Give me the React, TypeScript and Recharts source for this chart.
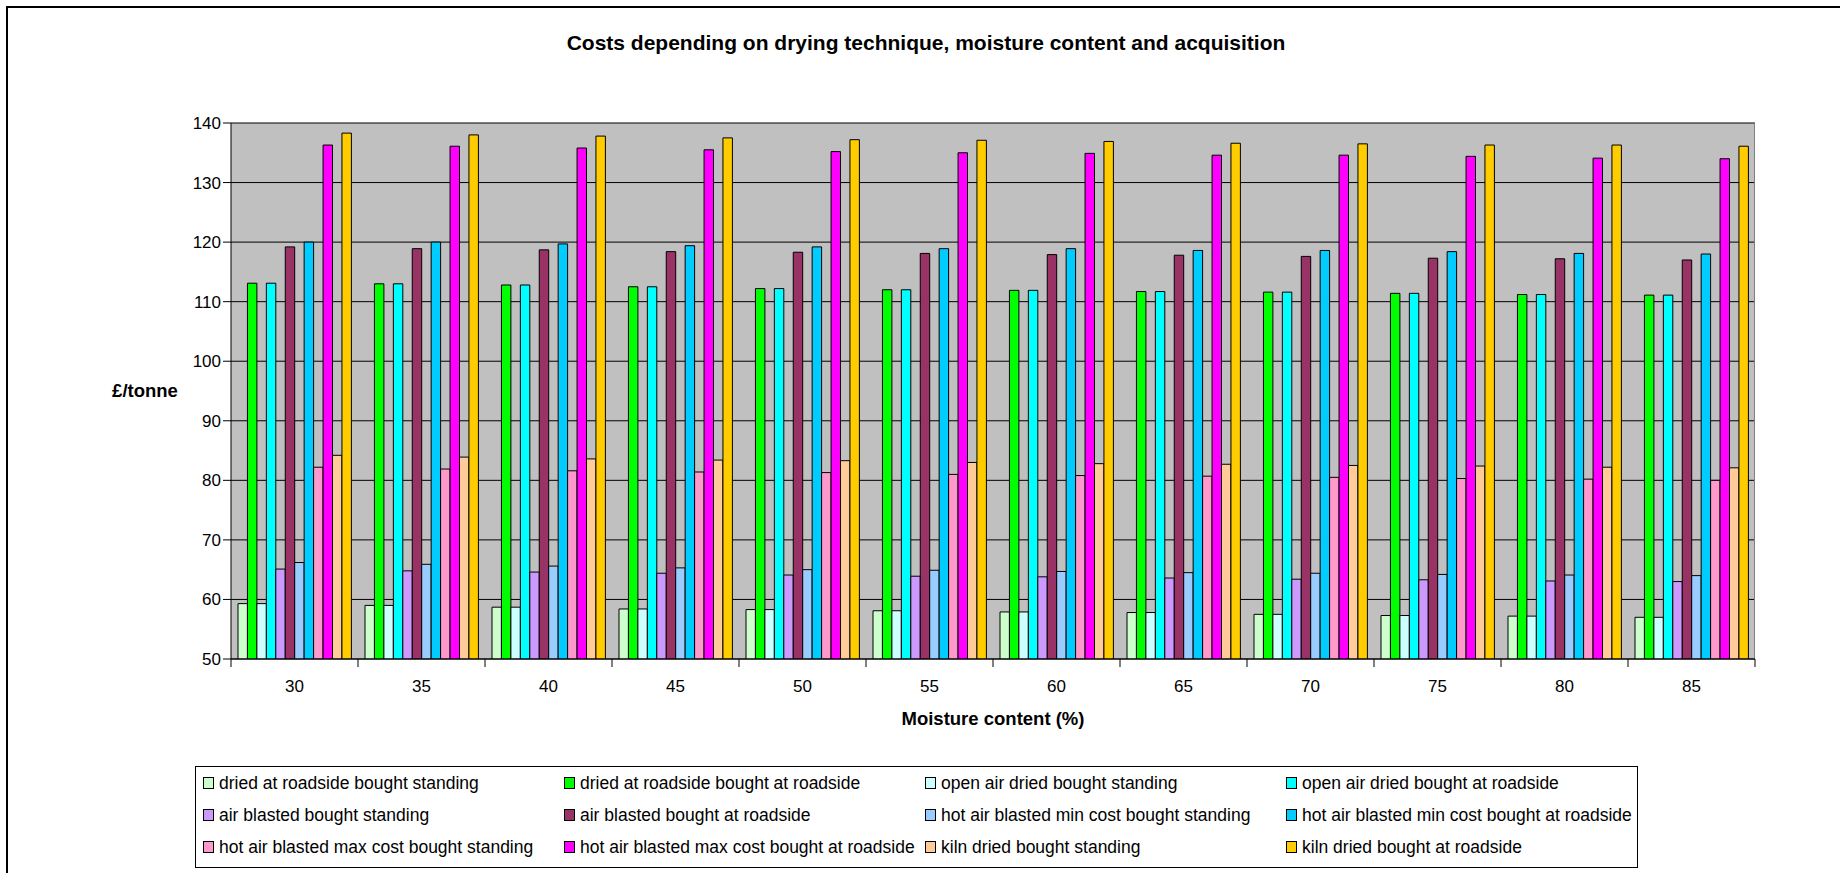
import { BarChart, Bar, XAxis, YAxis, CartesianGrid } from "recharts";

// moisture content (%) along the x axis
const moisture = [30, 35, 40, 45, 50, 55, 60, 65, 70, 75, 80, 85];

// £/tonne for each drying technique / acquisition route
const driedStanding = [59.3, 59.0, 58.7, 58.4, 58.3, 58.1, 57.9, 57.8, 57.5, 57.3, 57.2, 57.0];
const driedRoadside = [113.1, 113.0, 112.8, 112.5, 112.2, 112.0, 111.9, 111.7, 111.6, 111.4, 111.2, 111.1];
const openAirStanding = [59.3, 59.0, 58.7, 58.4, 58.3, 58.1, 57.9, 57.8, 57.5, 57.3, 57.2, 57.0];
const openAirRoadside = [113.1, 113.0, 112.8, 112.5, 112.2, 112.0, 111.9, 111.7, 111.6, 111.4, 111.2, 111.1];
const airBlastedStanding = [65.1, 64.8, 64.6, 64.4, 64.1, 63.9, 63.8, 63.6, 63.4, 63.3, 63.1, 63.0];
const airBlastedRoadside = [119.2, 118.9, 118.7, 118.4, 118.3, 118.1, 117.9, 117.8, 117.6, 117.3, 117.2, 117.0];
const hotMinStanding = [66.2, 65.9, 65.6, 65.3, 65.0, 64.9, 64.7, 64.5, 64.4, 64.2, 64.1, 64.0];
const hotMinRoadside = [120.0, 120.0, 119.7, 119.4, 119.2, 118.9, 118.9, 118.6, 118.6, 118.4, 118.1, 118.0];
const hotMaxStanding = [82.2, 81.9, 81.6, 81.4, 81.3, 81.0, 80.8, 80.7, 80.5, 80.3, 80.2, 80.0];
const hotMaxRoadside = [136.3, 136.1, 135.8, 135.5, 135.2, 135.0, 134.9, 134.6, 134.6, 134.4, 134.1, 134.0];
const kilnStanding = [84.2, 83.9, 83.6, 83.4, 83.3, 83.0, 82.8, 82.7, 82.5, 82.4, 82.2, 82.1];
const kilnRoadside = [138.3, 138.0, 137.8, 137.5, 137.2, 137.1, 136.9, 136.6, 136.5, 136.3, 136.3, 136.1];

const yTicks = [50, 60, 70, 80, 90, 100, 110, 120, 130, 140];

const series = [
  { key: "driedStanding", name: "dried at roadside bought standing", color: "#CCFFCC", values: driedStanding },
  { key: "driedRoadside", name: "dried at roadside bought at roadside", color: "#00FF00", values: driedRoadside },
  { key: "openAirStanding", name: "open air dried bought standing", color: "#CCFFFF", values: openAirStanding },
  { key: "openAirRoadside", name: "open air dried bought at roadside", color: "#00FFFF", values: openAirRoadside },
  { key: "airBlastedStanding", name: "air blasted bought standing", color: "#CC99FF", values: airBlastedStanding },
  { key: "airBlastedRoadside", name: "air blasted bought at roadside", color: "#993366", values: airBlastedRoadside },
  { key: "hotMinStanding", name: "hot air blasted min cost bought standing", color: "#99CCFF", values: hotMinStanding },
  { key: "hotMinRoadside", name: "hot air blasted min cost bought at roadside", color: "#00CCFF", values: hotMinRoadside },
  { key: "hotMaxStanding", name: "hot air blasted max cost bought standing", color: "#FF99CC", values: hotMaxStanding },
  { key: "hotMaxRoadside", name: "hot air blasted max cost bought at roadside", color: "#FF00FF", values: hotMaxRoadside },
  { key: "kilnStanding", name: "kiln dried bought standing", color: "#FFCC99", values: kilnStanding },
  { key: "kilnRoadside", name: "kiln dried bought at roadside", color: "#FFCC00", values: kilnRoadside },
];

const data = moisture.map((m, i) => {
  const row: Record<string, number | string> = { moisture: String(m) };
  series.forEach((s) => {
    row[s.key] = s.values[i];
  });
  return row;
});

const FONT = "'Liberation Sans', Arial, sans-serif";

// chart geometry
const W = 1840;
const H = 873;
const MARGIN = { top: 123, right: 85, bottom: 174, left: 151 };
const Y_AXIS_W = 80;
const X_AXIS_H = 40;
const PLOT_LEFT = MARGIN.left + Y_AXIS_W;
const PLOT_W = W - MARGIN.left - MARGIN.right - Y_AXIS_W;
const PLOT_H = H - MARGIN.top - MARGIN.bottom - X_AXIS_H;
const BAND = PLOT_W / moisture.length;
const X_TICK_OFFSET = 21;

// category label centred, tick marks sitting between the categories
function MoistureTick(props: any) {
  const { x, y, payload, index } = props;
  const axisY = y - X_TICK_OFFSET;
  const left = x - BAND / 2;
  const isLast = index === moisture.length - 1;
  return (
    <g>
      <line x1={left} x2={left} y1={axisY} y2={axisY + 8} stroke="#000" />
      {isLast && (
        <line x1={x + BAND / 2} x2={x + BAND / 2} y1={axisY} y2={axisY + 8} stroke="#000" />
      )}
      <text
        x={x}
        y={y}
        dy="0.71em"
        textAnchor="middle"
        fill="#000"
        fontSize={17}
        fontFamily={FONT}
      >
        {payload.value}
      </text>
    </g>
  );
}

function LegendBox() {
  return (
    <div
      style={{
        position: "absolute",
        left: 195,
        top: 766,
        width: 1443,
        height: 102,
        border: "1px solid #000",
        boxSizing: "border-box",
        background: "#fff",
        fontFamily: FONT,
        fontSize: 17.5,
        color: "#000",
      }}
    >
      {series.map((s, i) => (
        <div
          key={s.key}
          style={{
            position: "absolute",
            left: 7 + (i % 4) * 361,
            top: 5 + Math.floor(i / 4) * 32,
            height: 22,
            display: "flex",
            alignItems: "center",
            whiteSpace: "nowrap",
          }}
        >
          <span
            style={{
              display: "inline-block",
              width: 9,
              height: 10,
              background: s.color,
              border: "1px solid #000",
              marginRight: 5,
            }}
          />
          {s.name}
        </div>
      ))}
    </div>
  );
}

export default function App() {
  return (
    <div
      style={{
        position: "absolute",
        left: 0,
        top: 0,
        width: W,
        height: H,
        overflow: "hidden",
        background: "#fff",
        fontFamily: FONT,
      }}
    >
      <div
        style={{
          position: "absolute",
          left: 6,
          top: 6,
          width: W,
          height: H,
          border: "2px solid #000",
        }}
      />

      <div
        style={{
          position: "absolute",
          left: 0,
          width: 1852,
          top: 30,
          textAlign: "center",
          fontWeight: "bold",
          fontSize: 21,
          lineHeight: "26px",
          color: "#000",
        }}
      >
        Costs depending on drying technique, moisture content and acquisition
      </div>

      <div style={{ position: "absolute", left: 0, top: 0 }}>
        <BarChart
          width={W}
          height={H}
          data={data}
          margin={MARGIN}
          barGap={0}
          barSize={9.45}
        >
          <CartesianGrid vertical={false} stroke="#000" fill="#C0C0C0" fillOpacity={1} />
          <XAxis
            dataKey="moisture"
            height={X_AXIS_H}
            axisLine={{ stroke: "#000" }}
            tickLine={false}
            tickSize={8}
            tickMargin={13}
            tick={<MoistureTick />}
            interval={0}
          />
          <YAxis
            width={Y_AXIS_W}
            domain={[50, 140]}
            ticks={yTicks}
            allowDataOverflow
            axisLine={{ stroke: "#000" }}
            tickLine={{ stroke: "#000" }}
            tickSize={8}
            tickMargin={2}
            tick={{ fill: "#000", fontSize: 17, fontFamily: FONT }}
          />
          {series.map((s) => (
            <Bar
              key={s.key}
              dataKey={s.key}
              name={s.name}
              fill={s.color}
              stroke="#000"
              strokeWidth={1}
              isAnimationActive={false}
            />
          ))}
        </BarChart>
      </div>

      {/* grey frame on the top and right of the plot area */}
      <div
        style={{
          position: "absolute",
          left: PLOT_LEFT,
          top: MARGIN.top - 1,
          width: PLOT_W,
          height: PLOT_H,
          borderTop: "1px solid #808080",
          borderRight: "1px solid #808080",
          boxSizing: "border-box",
          pointerEvents: "none",
        }}
      />

      <div
        style={{
          position: "absolute",
          left: 100,
          top: 379,
          width: 90,
          textAlign: "center",
          fontWeight: "bold",
          fontSize: 18.5,
          lineHeight: "24px",
        }}
      >
        £/tonne
      </div>

      <div
        style={{
          position: "absolute",
          left: PLOT_LEFT,
          width: PLOT_W,
          top: 707,
          textAlign: "center",
          fontWeight: "bold",
          fontSize: 18.5,
          lineHeight: "24px",
        }}
      >
        Moisture content (%)
      </div>

      <LegendBox />
    </div>
  );
}
